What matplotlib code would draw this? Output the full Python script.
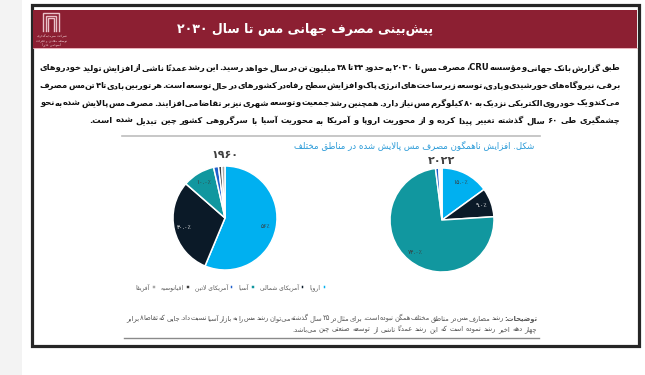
import matplotlib
matplotlib.use("Agg")
import matplotlib.pyplot as plt
from matplotlib.patches import Rectangle
import numpy as np

plt.rcParams['font.family'] = ['DejaVu Sans']

# chart data
regions = ['اروپا', 'آمریکای شمالی', 'آسیا', 'آمریکای لاتین', 'اقیانوسیه', 'آفریقا']
colors = ['#00B0F0', '#0B1A28', '#11979F', '#1F5FCC', '#3F3F3F', '#A9A9A9']
share_1960 = [56, 30, 10, 1.5, 1, 1]
share_2022 = [15, 9, 74, 1, 0.5, 0.5]
labels_1960 = ['۵۶٪', '۳۰.۰٪', '۱۰.۰٪', '', '', '']
labels_2022 = ['۱۵.۰٪', '۹.۰٪', '۷۴.۰٪', '', '', '']
year_1960 = '۱۹۶۰'
year_2022 = '۲۰۲۲'

title = 'پیش‌بینی مصرف جهانی مس تا سال ۲۰۳۰'
paragraph = [
    'طبق گزارش بانک جهانی و مؤسسه CRU، مصرف مس تا ۲۰۳۰ به حدود ۳۴ تا ۳۸ میلیون تن در سال خواهد رسید. این رشد عمدتاً ناشی از افزایش تولید خودروهای',
    'برقی، نیروگاه‌های خورشیدی و بادی، توسعه زیرساخت‌های انرژی پاک و افزایش سطح رفاه در کشورهای در حال توسعه است. هر توربین بادی تا ۴ تن مس مصرف',
    'می‌کند و یک خودروی الکتریکی نزدیک به ۸۰ کیلوگرم مس نیاز دارد. همچنین رشد جمعیت و توسعه شهری نیز بر تقاضا می‌افزایند. مصرف مس پالایش شده به نحو',
    'چشمگیری طی ۶۰ سال گذشته تغییر پیدا کرده و از محوریت اروپا و آمریکا به محوریت آسیا با سرگروهی کشور چین تبدیل شده است.',
]
caption = 'شکل. افزایش ناهمگون مصرف مس پالایش شده در مناطق مختلف'
notes = [
    'توضیحات: رشد مصارف مس در مناطق مختلف همگن نبوده است، برای مثال در ۲۵ سال گذشته می‌توان رشد مس را به بازار آسیا نسبت داد. جایی که تقاضا ۸ برابر',
    'چهار دهه اخیر رشد نموده است که این رشد عمدتاً ناشی از توسعه صنعتی چین می‌باشد.',
]
logo_lines = ['شرکت سرمایه‌گذاری', 'توسعه معادن و فلزات', '(سهامی عام)']

# --- minimal Persian shaping + right-to-left ordering ---
DUAL = {'ب': 0xFE8F, 'ت': 0xFE95, 'ث': 0xFE99, 'ج': 0xFE9D, 'ح': 0xFEA1, 'خ': 0xFEA5,
        'س': 0xFEB1, 'ش': 0xFEB5, 'ص': 0xFEB9, 'ض': 0xFEBD, 'ط': 0xFEC1, 'ظ': 0xFEC5,
        'ع': 0xFEC9, 'غ': 0xFECD, 'ف': 0xFED1, 'ق': 0xFED5, 'ل': 0xFEDD, 'م': 0xFEE1,
        'ن': 0xFEE5, 'ه': 0xFEE9, 'ي': 0xFEF1, 'ئ': 0xFE89, 'ك': 0xFED9,
        'پ': 0xFB56, 'چ': 0xFB7A, 'ک': 0xFB8E, 'گ': 0xFB92, 'ی': 0xFBFC}
RIGHT = {'ا': 0xFE8D, 'آ': 0xFE81, 'أ': 0xFE83, 'ؤ': 0xFE85, 'إ': 0xFE87, 'د': 0xFEA9,
         'ذ': 0xFEAB, 'ر': 0xFEAD, 'ز': 0xFEAF, 'و': 0xFEED, 'ژ': 0xFB8A, 'ة': 0xFE93}
LAMALEF = {'ا': 0xFEFB, 'آ': 0xFEF5, 'أ': 0xFEF7, 'إ': 0xFEF9}
MARKS = set(chr(c) for c in range(0x064B, 0x0653))
LTR = set('0123456789۰۱۲۳۴۵۶۷۸۹.٪%ABCDEFGHIJKLMNOPQRSTUVWXYZabcdefghijklmnopqrstuvwxyz')


def shape(s):
    chars = list(s)
    n = len(chars)
    out = []

    def joinable(c):
        return c in DUAL or c in RIGHT

    def prev_letter(i):
        j = i - 1
        while j >= 0 and chars[j] in MARKS:
            j -= 1
        return chars[j] if j >= 0 else None

    def next_letter(i):
        j = i + 1
        while j < n and chars[j] in MARKS:
            j += 1
        return (chars[j], j) if j < n else (None, n)

    i = 0
    while i < n:
        c = chars[i]
        if c in MARKS:
            if out:
                out[-1] += c
            i += 1
            continue
        p = prev_letter(i)
        jp = p is not None and p in DUAL and joinable(c)
        nx, j = next_letter(i)
        if c == 'ل' and nx in LAMALEF:
            out.append(chr(LAMALEF[nx] + (1 if jp else 0)))
            i = j + 1
            continue
        jn = c in DUAL and nx is not None and joinable(nx)
        if c in DUAL:
            out.append(chr(DUAL[c] + (3 if jp and jn else 1 if jp else 2 if jn else 0)))
        elif c in RIGHT:
            out.append(chr(RIGHT[c] + (1 if jp else 0)))
        elif c != '\u200c':
            out.append(c)
        i += 1
    return out


def vword(w):
    runs = []
    for cl in shape(w):
        is_l = cl[0] in LTR
        if runs and runs[-1][0] == is_l:
            runs[-1][1].append(cl)
        else:
            runs.append([is_l, [cl]])
    parts = []
    for is_l, cls in reversed(runs):
        parts.append(''.join(cls) if is_l else ''.join(reversed(cls)))
    return ''.join(parts)


def vline(s):
    return ' '.join(vword(w) for w in reversed(s.split(' ')))


W, H = 645, 375
fig = plt.figure(figsize=(6.45, 3.75), dpi=100)
bg = fig.add_axes([0, 0, 1, 1])
bg.set_xlim(0, W)
bg.set_ylim(H, 0)
bg.axis('off')
renderer = fig.canvas.get_renderer()

# page frame
bg.add_patch(Rectangle((0, 0), 22, H, color='#F3F3F3', lw=0))
bg.add_patch(Rectangle((31.5, 4.5), 607, 341.5, fill=False, ec='#262626', lw=2.3))
bg.add_patch(Rectangle((33, 9.5), 604, 38.5, color='#8C1F32', lw=0))
bg.plot([33, 637], [48, 48], color='#E7A3AE', lw=0.6)

# logo
for k in range(3):
    d = 2.6 * k
    bg.plot([43 + d, 43 + d, 59 - d, 59 - d], [31, 13 + d, 13 + d, 31],
            color='#E9C1C8', lw=1.0, solid_joinstyle='miter')
for k, ln in enumerate(logo_lines):
    bg.text(52, 36.5 + 4 * k, vline(ln), fontsize=2.4, color='#F2D6DA',
            ha='center', va='center')

bg.text(305, 29, vline(title), fontsize=9, fontweight='bold', color='white',
        ha='center', va='center')


def draw_words(line, y, x_left, x_right, size, color, justify=True, bold_first=None):
    words = line.split(' ')
    texts = []
    for k, w in enumerate(words):
        wt = 'bold' if bold_first is None or k == 0 else 'normal'
        if bold_first is False:
            wt = 'normal'
        t = bg.text(0, y, vword(w), fontsize=size, color=color, fontweight=wt,
                    ha='right', va='baseline')
        texts.append(t)
    widths = [t.get_window_extent(renderer).width for t in texts]
    if justify:
        gap = (x_right - x_left - sum(widths)) / (len(words) - 1)
    else:
        gap = 0.44 * size
    x = x_right
    for t, wd in zip(texts, widths):
        t.set_x(x)
        x -= wd + gap


para_y = [70.5, 88, 105.5, 123]
for k, ln in enumerate(paragraph):
    draw_words(ln, para_y[k], 40, 620, 6.0, '#111111', justify=k < len(paragraph) - 1)

bg.plot([122, 540], [135.5, 135.5], color='#BDBDBD', lw=1.2)
bg.text(534, 145, vline(caption), fontsize=6.2, color='#2B9BD8', ha='right', va='center')


def draw_pie(cx, cy, r, values, labels, year, year_y):
    ax = fig.add_axes([(cx - r) / W, (H - cy - r) / H, 2 * r / W, 2 * r / H])
    wedges, _ = ax.pie(values, colors=colors, startangle=90, counterclock=False,
                       wedgeprops=dict(edgecolor='white', linewidth=1.1))
    ax.set_xlim(-1, 1)
    ax.set_ylim(-1, 1)
    ax.axis('off')
    for wdg, lab, col in zip(wedges, labels, colors):
        wdg.set_clip_on(False)
        if not lab:
            continue
        th = np.deg2rad((wdg.theta1 + wdg.theta2) / 2)
        tc = 'white' if col == '#0B1A28' else '#3A3A3A'
        ax.text(0.8 * np.cos(th), 0.8 * np.sin(th), vword(lab), fontsize=4.3,
                color=tc, ha='center', va='center')
    bg.text(cx, year_y, year, fontsize=8, fontweight='bold', color='#404040',
            ha='center', va='center')
    return wedges


wl = draw_pie(225, 218, 52, share_1960, labels_1960, year_1960, 155)
draw_pie(442, 220, 52, share_2022, labels_2022, year_2022, 161)

bg.legend(wl[::-1], [vline(r) for r in regions[::-1]], ncol=6, markerfirst=False,
          loc='center', bbox_to_anchor=(231 / W, 1 - 287 / H), bbox_transform=fig.transFigure,
          frameon=False, fontsize=4.3, handlelength=0.6, handleheight=0.6,
          handletextpad=0.3, columnspacing=0.9, labelcolor='#595959')

# notes
draw_words(notes[0], 320.5, 126, 537, 4.9, '#555555', justify=True, bold_first=True)
draw_words(notes[1], 331, 126, 537, 4.9, '#555555', justify=False, bold_first=False)
bg.plot([124, 539], [337.5, 337.5], color='#8A8A8A', lw=1.0)

fig.savefig('out.png', dpi=100)
